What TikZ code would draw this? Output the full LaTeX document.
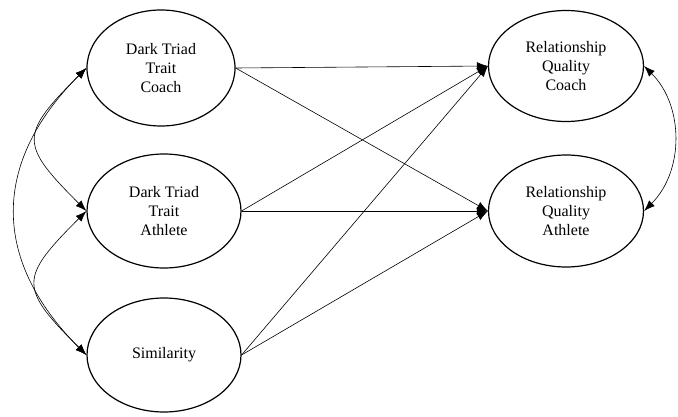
\documentclass[tikz,border=0pt]{standalone}
\usepackage{fontspec}
\setmainfont{Liberation Serif}
\usetikzlibrary{shapes.geometric,arrows.meta}

\begin{document}
\begin{tikzpicture}[x=1pt,y=1pt,
  latent/.style={ellipse,draw,line width=1.2pt,inner sep=0pt,
    minimum width=154pt,minimum height=114pt,align=center,
    font=\fontsize{16}{19}\selectfont},
  path/.style={line width=0.6pt,-{Latex[length=11pt,width=8pt]}},
  cov/.style={line width=0.6pt,{Latex[length=11pt,width=8pt]}-{Latex[length=11pt,width=8pt]}}]
 \useasboundingbox (0,0) rectangle (678,416);
 \node[latent,minimum width=148pt,minimum height=116pt] (DTC) at (161,348) {Dark Triad\\Trait\\Coach};
 \node[latent] (DTA) at (164,205) {Dark Triad\\Trait\\Athlete};
 \node[latent] (SIM) at (164,61) {Similarity};
 \node[latent,minimum width=155pt,minimum height=111pt] (RQC) at (566,350) {Relationship\\Quality\\Coach};
 \node[latent,minimum width=155pt,minimum height=112pt] (RQA) at (566,205) {Relationship\\Quality\\Athlete};
 % paths to outcomes
 \draw[path] (DTC.east) -- (RQC.west);
 \draw[path] (DTC.east) -- (RQA.west);
 \draw[path] (DTA.east) -- (RQC.west);
 \draw[path] (DTA.east) -- (RQA.west);
 \draw[path] (SIM.east) -- (RQC.west);
 \draw[path] (SIM.east) -- (RQA.west);
 % covariances
 \draw[cov] (DTC.west) to[out=225,in=135,looseness=1.7] (DTA.west);
 \draw[cov] (DTA.west) to[out=225,in=135,looseness=1.7] (SIM.west);
 \draw[cov] (DTC.west) to[out=225,in=135,looseness=1.2] (SIM.west);
 \draw[cov] (RQC.east) to[out=-45,in=45,looseness=1] (RQA.east);
\end{tikzpicture}
\end{document}
